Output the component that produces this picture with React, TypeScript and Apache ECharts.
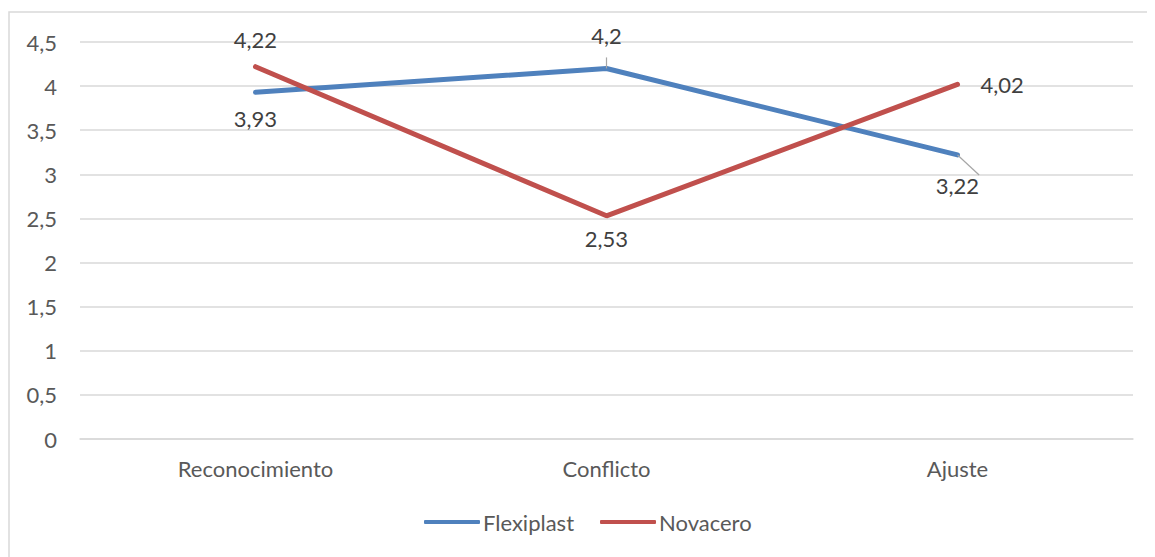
import React, { useEffect, useRef } from "react";
import * as echarts from "echarts";

const categories = ["Reconocimiento", "Conflicto", "Ajuste"];
const flexiplast = [3.93, 4.2, 3.22];
const novacero = [4.22, 2.53, 4.02];
const flexiLabelPos = ["bottom", "top", "bottom"];
const novaLabelPos = ["top", "bottom", "right"];
const flexiLabelDist = [15, 22, 20];
const novaLabelDist = [16, 12, 23];
const flexiLeader = [false, true, true];

const FONT = "Lato";
const TXT = "#595959";

const fmt = (v: number) => String(v).replace(".", ",");

export default function App() {
  const ref = useRef<HTMLDivElement>(null);
  useEffect(() => {
    if (!ref.current) return;
    const chart = echarts.init(ref.current, null, { renderer: "svg" });
    chart.setOption({
      animation: false,
      textStyle: { fontFamily: FONT },
      graphic: [
        {
          type: "rect",
          shape: { x: 1, y: 4, width: 1300, height: 700 },
          style: { fill: "none", stroke: "#d9d9d9", lineWidth: 1.5 },
          silent: true,
        },
      ],
      grid: { left: 72, right: 22, top: 34, bottom: 118 },
      legend: {
        top: 498,
        left: 411,
        icon: "roundRect",
        itemWidth: 56,
        itemHeight: 4,
        itemGap: 26,
        textStyle: { color: TXT, fontSize: 22, fontFamily: FONT, padding: [0, 0, 0, -2] },
        data: ["Flexiplast", "Novacero"],
      },
      xAxis: {
        type: "category",
        data: categories,
        axisLine: { show: true, lineStyle: { color: "#d9d9d9", width: 1.5 } },
        axisTick: { show: false },
        axisLabel: { color: TXT, fontSize: 22, fontFamily: FONT, margin: 18 },
      },
      yAxis: {
        type: "value",
        min: 0,
        max: 4.5,
        interval: 0.5,
        axisLine: { show: false },
        axisTick: { show: false },
        splitLine: { lineStyle: { color: "#d9d9d9", width: 1.5 } },
        axisLabel: { color: TXT, fontSize: 22, fontFamily: FONT, margin: 23, formatter: (v: number) => fmt(v) },
      },
      series: [
        {
          name: "Flexiplast",
          type: "line",
          symbol: "circle",
          showSymbol: true,
          symbolSize: 0.1,
          lineStyle: { color: "#4F81BD", width: 5, cap: "round" },
          itemStyle: { color: "#4F81BD" },
          data: flexiplast.map((v, i) => ({
            value: v,
            label: {
              show: true,
              position: flexiLabelPos[i],
              distance: flexiLabelDist[i],
            },
            labelLine: { show: flexiLeader[i] },
          })),
          label: { show: true, color: "#404040", fontSize: 22, fontFamily: FONT, formatter: (p: any) => fmt(p.value) },
          labelLine: { show: false, lineStyle: { color: "#a6a6a6", width: 1.2 } },
        },
        {
          name: "Novacero",
          type: "line",
          symbol: "circle",
          showSymbol: true,
          symbolSize: 0.1,
          lineStyle: { color: "#C0504D", width: 5, cap: "round" },
          itemStyle: { color: "#C0504D" },
          data: novacero.map((v, i) => ({
            value: v,
            label: {
              show: true,
              position: novaLabelPos[i],
              distance: novaLabelDist[i],
            },
          })),
          label: { show: true, color: "#404040", fontSize: 22, fontFamily: FONT, formatter: (p: any) => fmt(p.value) },
        },
      ],
    });
    return () => chart.dispose();
  }, []);
  return <div ref={ref} style={{ width: 1147, height: 549 }} />;
}
